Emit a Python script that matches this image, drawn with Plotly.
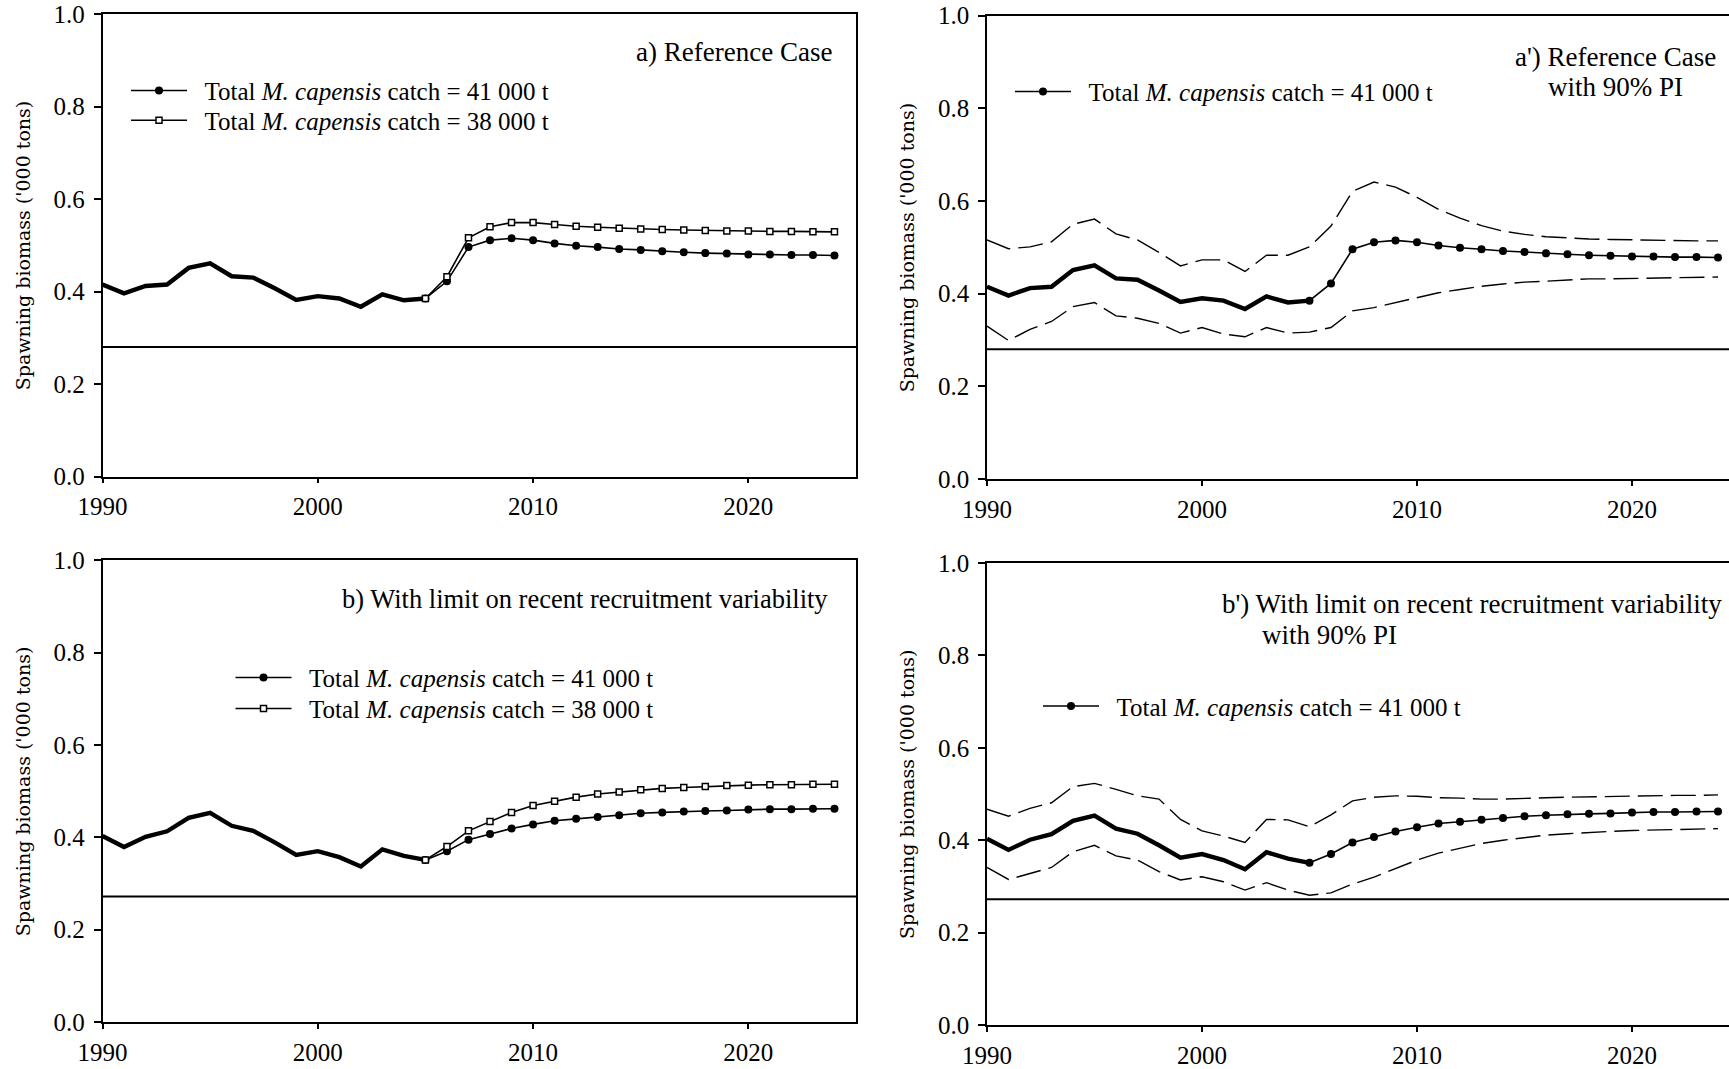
import plotly.graph_objects as go

# ---------------- data ----------------
years_hist = list(range(1990, 2006))
years_proj = list(range(2005, 2025))
years_all = list(range(1990, 2025))

# Reference case
ref_hist = [0.415, 0.396, 0.412, 0.415, 0.451, 0.461, 0.433, 0.430, 0.407, 0.382,
            0.390, 0.385, 0.367, 0.394, 0.381, 0.385]
ref_41k = [0.385, 0.422, 0.496, 0.511, 0.515, 0.511, 0.504, 0.499, 0.496, 0.492,
           0.490, 0.487, 0.485, 0.483, 0.482, 0.480, 0.480, 0.479, 0.479, 0.478]
ref_38k = [0.385, 0.432, 0.516, 0.540, 0.549, 0.549, 0.545, 0.541, 0.539, 0.537,
           0.535, 0.534, 0.533, 0.532, 0.531, 0.531, 0.530, 0.530, 0.529, 0.529]
ref_pi_upper = [0.516, 0.497, 0.501, 0.512, 0.550, 0.561, 0.529, 0.516, 0.489, 0.460,
                0.473, 0.473, 0.448, 0.483, 0.483, 0.501, 0.546, 0.621, 0.641, 0.630,
                0.608, 0.582, 0.563, 0.547, 0.535, 0.528, 0.523, 0.520, 0.518, 0.517,
                0.516, 0.515, 0.514, 0.514, 0.514]
ref_pi_lower = [0.330, 0.299, 0.323, 0.340, 0.372, 0.381, 0.352, 0.347, 0.336, 0.315,
                0.327, 0.313, 0.307, 0.327, 0.315, 0.317, 0.327, 0.363, 0.370, 0.381,
                0.391, 0.402, 0.409, 0.416, 0.421, 0.425, 0.427, 0.430, 0.432, 0.432,
                0.433, 0.434, 0.435, 0.435, 0.436]
ref_limit = 0.28

# With limit on recent recruitment variability
lim_hist = [0.403, 0.379, 0.401, 0.413, 0.442, 0.453, 0.425, 0.414, 0.389, 0.362,
            0.370, 0.357, 0.337, 0.374, 0.360, 0.351]
lim_41k = [0.351, 0.370, 0.395, 0.407, 0.419, 0.428, 0.436, 0.440, 0.444, 0.448,
           0.452, 0.454, 0.456, 0.457, 0.458, 0.460, 0.461, 0.461, 0.462, 0.462]
lim_38k = [0.351, 0.380, 0.414, 0.434, 0.454, 0.469, 0.478, 0.487, 0.494, 0.498,
           0.503, 0.506, 0.508, 0.510, 0.512, 0.513, 0.514, 0.514, 0.515, 0.515]
lim_pi_upper = [0.467, 0.452, 0.469, 0.481, 0.516, 0.523, 0.510, 0.496, 0.489, 0.445,
                0.420, 0.409, 0.395, 0.445, 0.444, 0.429, 0.455, 0.485, 0.493, 0.496,
                0.495, 0.492, 0.491, 0.489, 0.489, 0.491, 0.492, 0.493, 0.494, 0.495,
                0.496, 0.496, 0.497, 0.497, 0.498]
lim_pi_lower = [0.341, 0.315, 0.328, 0.341, 0.375, 0.389, 0.366, 0.357, 0.332, 0.314,
                0.321, 0.310, 0.292, 0.308, 0.292, 0.281, 0.286, 0.305, 0.320, 0.339,
                0.357, 0.372, 0.383, 0.393, 0.400, 0.406, 0.411, 0.414, 0.417, 0.419,
                0.421, 0.422, 0.424, 0.424, 0.425]
lim_limit = 0.272

name_41k = "&nbsp;&nbsp;Total <i>M. capensis</i> catch = 41 000 t"
name_38k = "&nbsp;&nbsp;Total <i>M. capensis</i> catch = 38 000 t"
y_ticks = [0.0, 0.2, 0.4, 0.6, 0.8, 1.0]
x_ticks = [1990, 2000, 2010, 2020]

panel_titles = {
    "a": ["a) Reference Case"],
    "a2": ["a') Reference Case", "with 90% PI"],
    "b": ["b) With limit on recent recruitment variability"],
    "b2": ["b') With limit on recent recruitment variability", "with 90% PI"],
}
y_title = "Spawning biomass ('000 tons)"

# ---------------- layout helpers ----------------
W, H = 1729, 1069
SERIF = "Liberation Serif, Times New Roman, serif"


def px_x(p):
    return p / W


def px_y(p):
    return 1 - p / H


fig = go.Figure()

# axis ids: 1 = a, 2 = a', 3 = b, 4 = b'
panels = {
    1: dict(xdom=(102.5, 856), ydom=(14, 476.5), xr=[1990, 2025], ymirror=True),
    2: dict(xdom=(987, 1729), ydom=(15.7, 479), xr=[1990, 1990 + (1729 - 987) / 21.5], ymirror=False),
    3: dict(xdom=(102.5, 856), ydom=(560.3, 1022), xr=[1990, 2025], ymirror=True),
    4: dict(xdom=(987, 1729), ydom=(563, 1025), xr=[1990, 1990 + (1729 - 987) / 21.5], ymirror=False),
}

for i, p in panels.items():
    sx = "" if i == 1 else str(i)
    fig.layout["xaxis" + sx] = dict(
        domain=[px_x(p["xdom"][0]), px_x(p["xdom"][1])],
        range=p["xr"], anchor="y" + sx, automargin=False,
        showline=True, linecolor="black", linewidth=1.5, mirror=True,
        ticks="outside", ticklen=5, tickwidth=1.5, tickcolor="black",
        tickvals=x_ticks, showgrid=False, zeroline=False,
        tickfont=dict(family=SERIF, size=25, color="black"),
        ticklabelstandoff=2,
    )
    fig.layout["yaxis" + sx] = dict(
        domain=[px_y(p["ydom"][1]), px_y(p["ydom"][0])],
        range=[0, 1], anchor="x" + sx, automargin=False,
        showline=True, linecolor="black", linewidth=1.5, mirror=p["ymirror"],
        ticks="outside", ticklen=7, tickwidth=1.5, tickcolor="black",
        tickvals=y_ticks, tickformat=".1f", showgrid=False, zeroline=False,
        tickfont=dict(family=SERIF, size=25, color="black"),
        ticklabelstandoff=4,
    )

HIST_W = 4.4
PROJ_W = 1.6


def add_hist(xa, ya, vals):
    fig.add_trace(go.Scatter(x=years_hist, y=vals, mode="lines", xaxis=xa, yaxis=ya,
                             line=dict(color="black", width=HIST_W), showlegend=False,
                             hoverinfo="skip"))


def add_41k(xa, ya, vals, legend):
    fig.add_trace(go.Scatter(x=years_proj, y=vals, mode="lines+markers", xaxis=xa, yaxis=ya,
                             name=name_41k, legend=legend,
                             line=dict(color="black", width=PROJ_W),
                             marker=dict(symbol="circle", size=8, color="black")))


def add_38k(xa, ya, vals, legend):
    fig.add_trace(go.Scatter(x=years_proj, y=vals, mode="lines+markers", xaxis=xa, yaxis=ya,
                             name=name_38k, legend=legend,
                             line=dict(color="black", width=PROJ_W),
                             marker=dict(symbol="square", size=6, color="white",
                                         line=dict(color="black", width=1.5))))


def add_pi(xa, ya, vals):
    fig.add_trace(go.Scatter(x=years_all, y=vals, mode="lines", xaxis=xa, yaxis=ya,
                             line=dict(color="black", width=1.4, dash="25px,8px"),
                             showlegend=False, hoverinfo="skip"))


# panel a
add_hist("x", "y", ref_hist)
add_41k("x", "y", ref_41k, "legend")
add_38k("x", "y", ref_38k, "legend2")
# panel a'
add_pi("x2", "y2", ref_pi_upper)
add_pi("x2", "y2", ref_pi_lower)
add_hist("x2", "y2", ref_hist)
add_41k("x2", "y2", ref_41k, "legend3")
# panel b
add_hist("x3", "y3", lim_hist)
add_41k("x3", "y3", lim_41k, "legend4")
add_38k("x3", "y3", lim_38k, "legend5")
# panel b'
add_pi("x4", "y4", lim_pi_upper)
add_pi("x4", "y4", lim_pi_lower)
add_hist("x4", "y4", lim_hist)
add_41k("x4", "y4", lim_41k, "legend6")

# limit reference lines
for sx, lim in [("", ref_limit), ("2", ref_limit), ("3", lim_limit), ("4", lim_limit)]:
    fig.add_shape(type="line", xref=("x" + sx) + " domain", yref="y" + sx,
                  x0=0, x1=1, y0=lim, y1=lim, line=dict(color="black", width=2))

# legends: (start of sample line x, row centre y) in pixels
LEG_OFF = 7
legend_pos = {
    "legend": (133, 90.7),
    "legend2": (133, 120.5),
    "legend3": (1017, 91.7),
    "legend4": (237.5, 677.8),
    "legend5": (237.5, 708.8),
    "legend6": (1045, 706.3),
}
for key, (tx, ty) in legend_pos.items():
    fig.layout[key] = dict(
        x=px_x(tx - LEG_OFF), y=px_y(ty), xanchor="left", yanchor="middle",
        bgcolor="rgba(0,0,0,0)", borderwidth=0, itemwidth=56,
        font=dict(family=SERIF, size=25, color="black"),
    )

# panel titles
TFONT = dict(family=SERIF, size=27, color="black")
fig.add_annotation(text=panel_titles["a"][0], xref="paper", yref="paper",
                   x=px_x(834), y=px_y(52), xanchor="right", yanchor="middle",
                   showarrow=False, font=TFONT)
fig.add_annotation(text=panel_titles["a2"][0], xref="paper", yref="paper",
                   x=px_x(1615), y=px_y(57), xanchor="center", yanchor="middle",
                   showarrow=False, font=TFONT)
fig.add_annotation(text=panel_titles["a2"][1], xref="paper", yref="paper",
                   x=px_x(1615), y=px_y(87), xanchor="center", yanchor="middle",
                   showarrow=False, font=TFONT)
fig.add_annotation(text=panel_titles["b"][0], xref="paper", yref="paper",
                   x=px_x(830), y=px_y(599), xanchor="right", yanchor="middle",
                   showarrow=False, font=dict(family=SERIF, size=26.5, color="black"))
fig.add_annotation(text=panel_titles["b2"][0], xref="paper", yref="paper",
                   x=px_x(1220), y=px_y(604), xanchor="left", yanchor="middle",
                   showarrow=False, font=TFONT)
fig.add_annotation(text=panel_titles["b2"][1], xref="paper", yref="paper",
                   x=px_x(1260), y=px_y(635), xanchor="left", yanchor="middle",
                   showarrow=False, font=TFONT)

# y-axis titles
YFONT = dict(family="DejaVu Serif, serif", size=19, color="black")
for sx, xc in [("", 23), ("2", 907), ("3", 23), ("4", 907)]:
    fig.add_annotation(text=y_title, xref="paper", yref="y" + sx + " domain",
                       x=px_x(xc), y=0.5, xanchor="center", yanchor="middle",
                       textangle=-90, showarrow=False, font=YFONT)

fig.update_layout(
    width=W, height=H,
    margin=dict(l=0, r=0, t=0, b=0, autoexpand=False),
    paper_bgcolor="white", plot_bgcolor="white",
    showlegend=True,
)

fig.write_html("out.html")
